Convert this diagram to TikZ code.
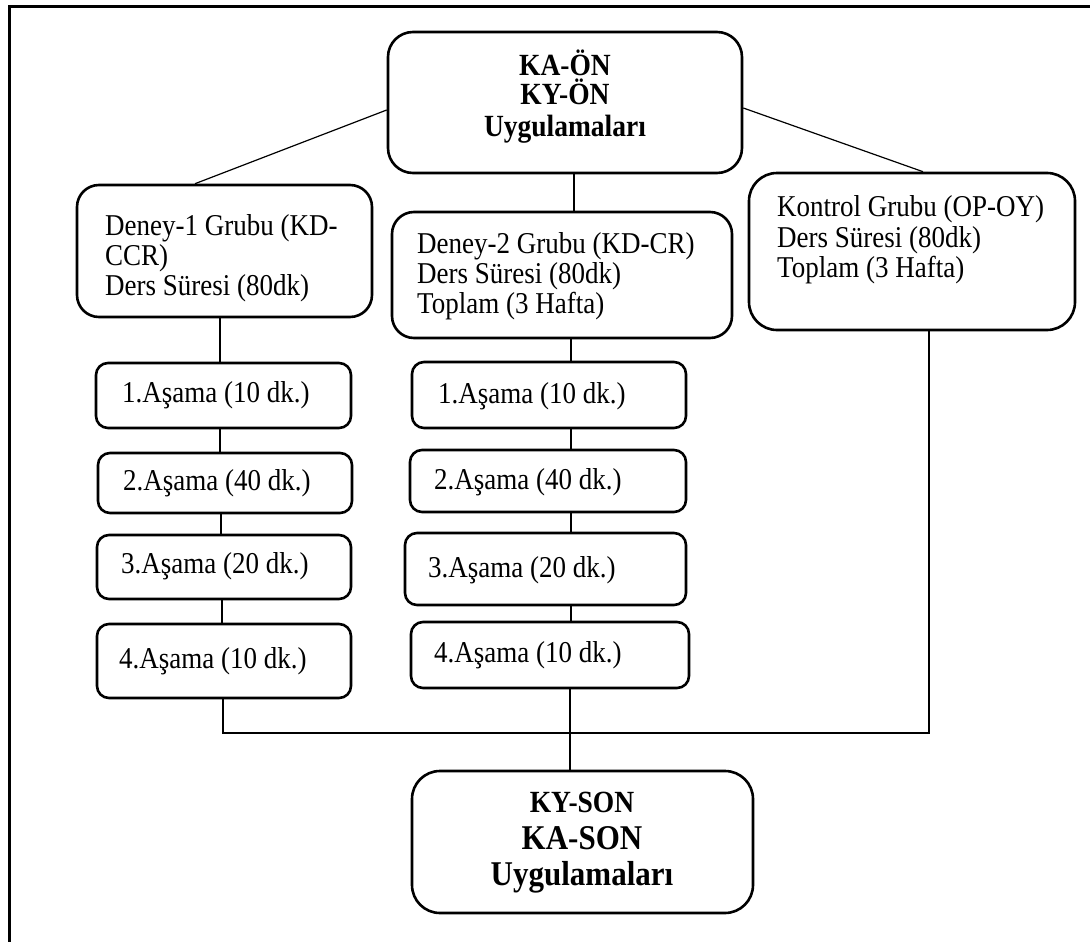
\documentclass[tikz,border=0pt]{standalone}
\usepackage{fontspec}
\setmainfont{Liberation Serif}
\newcommand{\vstretch}[1]{\scalebox{1}[1.12]{#1}}
\begin{document}
\begin{tikzpicture}[x=1pt,y=-1pt,
  bx/.style={draw, line width=2.6pt, rounded corners=#1, inner sep=0pt},
  bx/.default=12pt,
  conn/.style={line width=1.2pt},
  txt/.style={anchor=base west, inner sep=0pt, font=\fontsize{27}{30}\selectfont},
  ttl/.style={anchor=base, inner sep=0pt, font=\fontsize{27.5}{30}\selectfont\bfseries},
  ttlb/.style={anchor=base, inner sep=0pt, font=\fontsize{31}{34}\selectfont\bfseries}]
\clip (0,0) rectangle (1090,942);
\useasboundingbox (0,0) rectangle (1090,942);
\draw[line width=3pt] (9,7) rectangle (1110,960);

% boxes
\node[bx=25pt, minimum width=354pt, minimum height=141pt] (top) at (565,102.5) {};
\node[bx=22pt, minimum width=295pt, minimum height=132pt] (d1) at (224.5,251) {};
\node[bx=22pt, minimum width=340pt, minimum height=126pt] (d2) at (562,275) {};
\node[bx=28pt, minimum width=326pt, minimum height=157pt] (kon) at (912,251.5) {};
\node[bx, minimum width=255pt, minimum height=65pt] (L1) at (223.5,395.5) {};
\node[bx, minimum width=254pt, minimum height=60pt] (L2) at (225,483) {};
\node[bx, minimum width=254pt, minimum height=64pt] (L3) at (224,567) {};
\node[bx, minimum width=254pt, minimum height=74pt] (L4) at (224,661) {};
\node[bx, minimum width=274pt, minimum height=66pt] (R1) at (549,395) {};
\node[bx, minimum width=276pt, minimum height=62pt] (R2) at (548,481) {};
\node[bx, minimum width=281pt, minimum height=72pt] (R3) at (545.5,569) {};
\node[bx, minimum width=278pt, minimum height=66pt] (R4) at (550,655) {};
\node[bx=28pt, minimum width=341pt, minimum height=142pt] (bot) at (582.5,842) {};

% texts
\node[ttl] (t1) at (565,75) {\vstretch{KA-ÖN}};
\node[ttl] (t2) at (565,104) {\vstretch{KY-ÖN}};
\node[ttl] (t3) at (565,136) {\vstretch{Uygulamaları}};

\node[txt] (d1a) at (105,235) {\vstretch{Deney-1 Grubu (KD-}};
\node[txt] (d1b) at (105,265) {\vstretch{CCR)}};
\node[txt] (d1c) at (105,295) {\vstretch{Ders Süresi (80dk)}};

\node[txt] (d2a) at (417,253) {\vstretch{Deney-2 Grubu (KD-CR)}};
\node[txt] (d2b) at (417,283) {\vstretch{Ders Süresi (80dk)}};
\node[txt] (d2c) at (417,313) {\vstretch{Toplam (3 Hafta)}};

\node[txt] (ka) at (777,216) {\vstretch{Kontrol Grubu (OP-OY)}};
\node[txt] (kb) at (777,247) {\vstretch{Ders Süresi (80dk)}};
\node[txt] (kc) at (777,277) {\vstretch{Toplam (3 Hafta)}};

\node[txt] (l1t) at (122,402) {\vstretch{1.Aşama (10 dk.)}};
\node[txt] (l2t) at (123,490) {\vstretch{2.Aşama (40 dk.)}};
\node[txt] (l3t) at (121,573) {\vstretch{3.Aşama (20 dk.)}};
\node[txt] (l4t) at (119,668) {\vstretch{4.Aşama (10 dk.)}};
\node[txt] (r1t) at (438,403) {\vstretch{1.Aşama (10 dk.)}};
\node[txt] (r2t) at (434,489) {\vstretch{2.Aşama (40 dk.)}};
\node[txt] (r3t) at (428,577) {\vstretch{3.Aşama (20 dk.)}};
\node[txt] (r4t) at (434,662) {\vstretch{4.Aşama (10 dk.)}};

\node[ttl] (b1) at (582,812) {\vstretch{KY-SON}};
\node[ttlb] (b2) at (582,849) {\vstretch{KA-SON}};
\node[ttlb] (b3) at (582,885) {\vstretch{Uygulamaları}};

% connectors
\draw[conn] (top.west |- 0,110) -- (d1.north -| 195,0);
\draw[conn] (top.east |- 0,108) -- (kon.north -| 923,0);
\draw[conn] (top.south -| 574,0) -- (d2.north -| 574,0);

\draw[conn] (d1.south -| 220,0) -- (L1.north -| 220,0);
\draw[conn] (L1.south -| 220,0) -- (L2.north -| 220,0);
\draw[conn] (L2.south -| 221,0) -- (L3.north -| 221,0);
\draw[conn] (L3.south -| 222,0) -- (L4.north -| 222,0);

\draw[conn] (d2.south -| 571,0) -- (R1.north -| 571,0);
\draw[conn] (R1.south -| 571,0) -- (R2.north -| 571,0);
\draw[conn] (R2.south -| 571,0) -- (R3.north -| 571,0);
\draw[conn] (R3.south -| 571,0) -- (R4.north -| 571,0);
\draw[conn] (R4.south -| 570,0) -- (bot.north -| 570,0);

\coordinate (jr) at (929,733);
\draw[conn] (kon.south -| jr) -- (jr) -| (L4.south -| 223,0);
\end{tikzpicture}
\end{document}
